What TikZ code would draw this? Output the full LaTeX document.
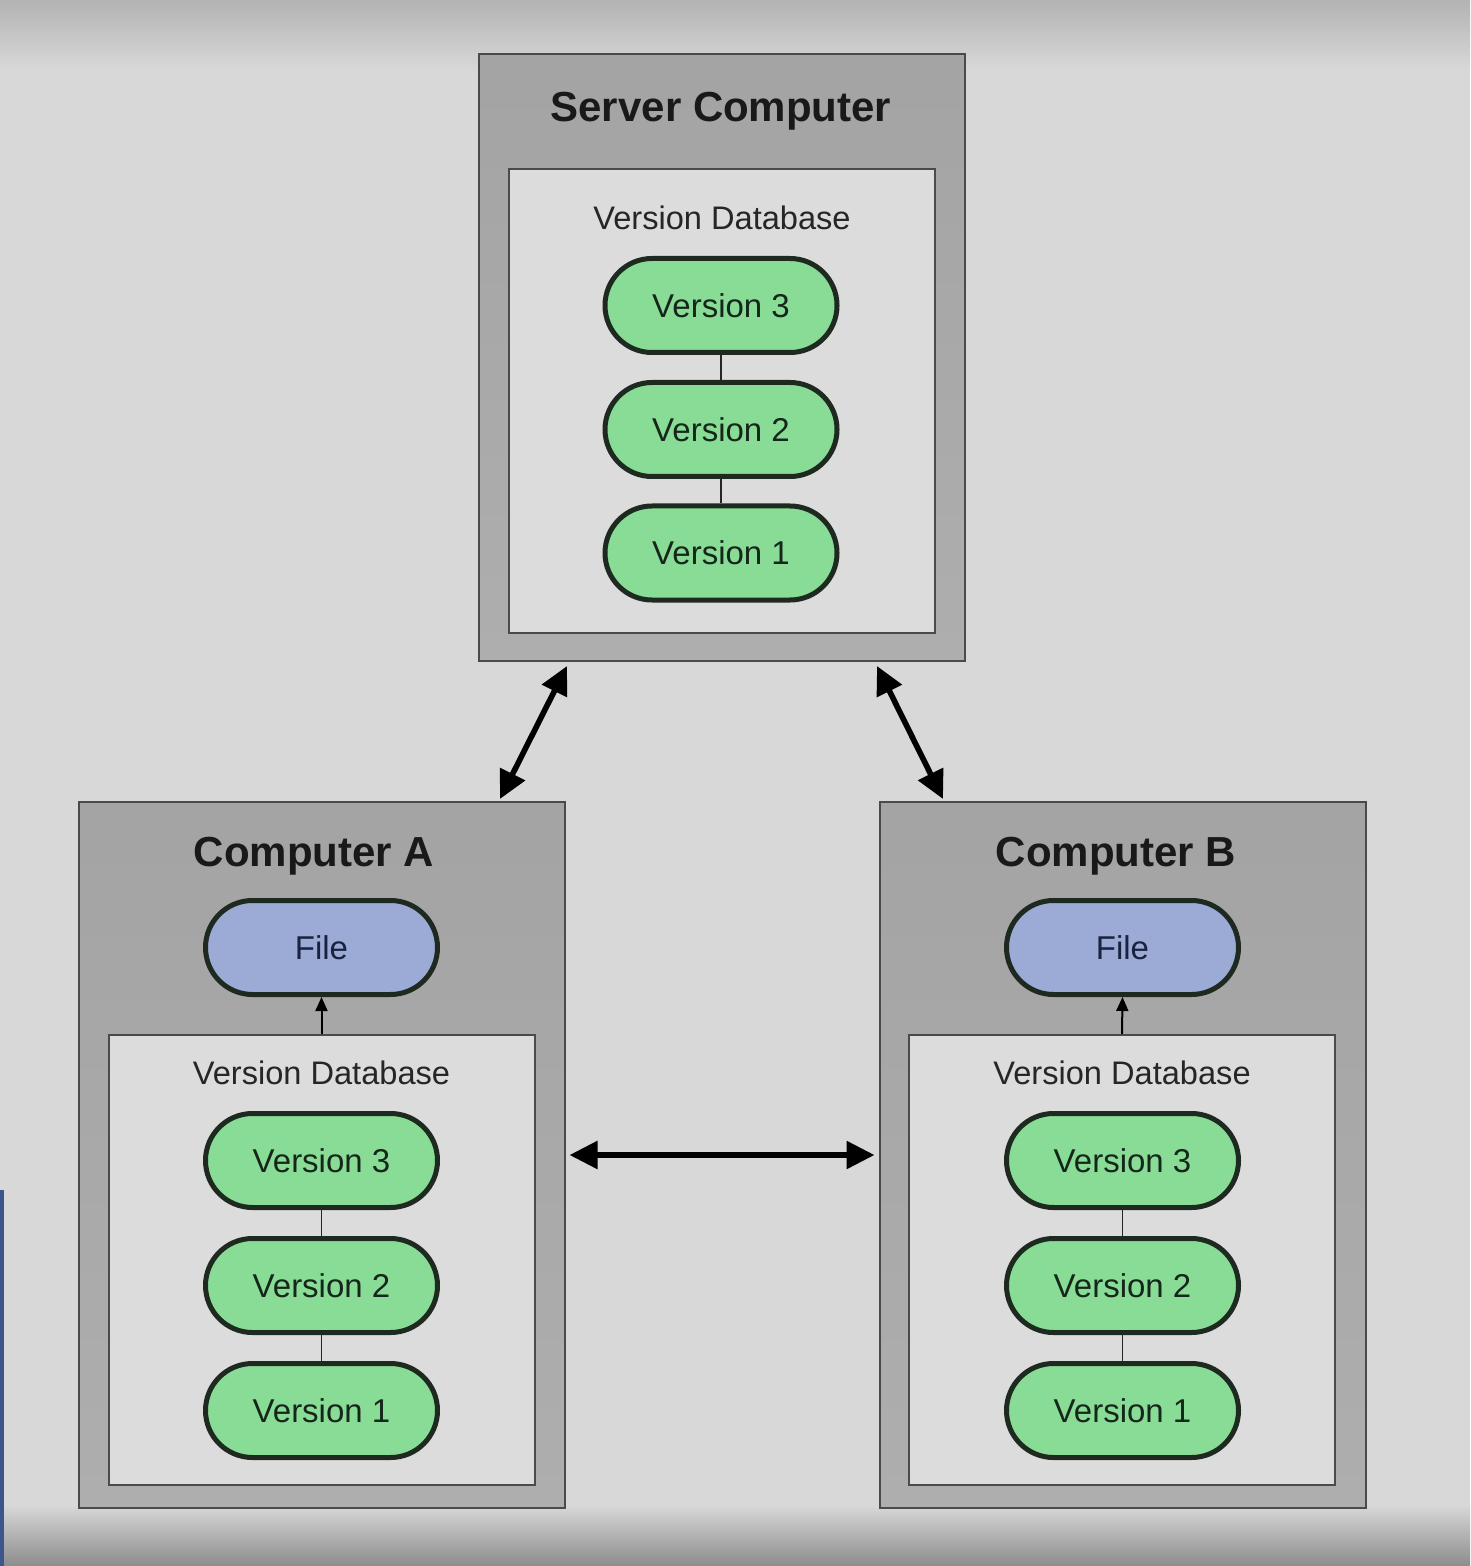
\documentclass[tikz,border=0pt]{standalone}
\usepackage{fontspec}
\setmainfont{Liberation Sans}
\usetikzlibrary{arrows.meta}
\definecolor{bgc}{HTML}{D8D8D8}
\definecolor{outerc}{HTML}{AEAEAE}
\definecolor{innerc}{HTML}{DCDCDC}
\definecolor{edgec}{HTML}{4A4A4A}
\definecolor{greenc}{HTML}{88DC96}
\definecolor{bluec}{HTML}{9CAAD6}
\definecolor{gtext}{HTML}{15261A}
\definecolor{btext}{HTML}{1A2240}
\definecolor{pillline}{HTML}{1E2A20}
\tikzset{
  outerbox/.style={draw=edgec, line width=1pt, top color=#1!94!black, bottom color=#1, minimum width=243pt, minimum height=353pt, inner sep=0pt},
  innerbox/.style={draw=edgec, line width=1pt, fill=innerc, minimum width=213pt, minimum height=225pt, inner sep=0pt},
  pill/.style={draw=pillline, line width=2.5pt, fill=greenc, minimum width=116pt, minimum height=47pt, rounded corners=23.5pt, inner sep=0pt, font=\fontsize{16.5}{18}\selectfont, text=gtext},
  filepill/.style={pill, fill=bluec, text=btext},
  titletext/.style={font=\fontsize{21}{24}\selectfont\bfseries, text=black!90},
  dbtext/.style={font=\fontsize{16.3}{18}\selectfont, text=black!85},
  bigarrow/.style={line width=2.8pt, {Triangle[length=14pt,width=13.5pt]}-{Triangle[length=14pt,width=13.5pt]}},
  smallarrow/.style={line width=1pt, -{Triangle[length=7pt,width=6pt]}},
  link/.style={line width=0.8pt, draw=black!85}
}
\begin{document}
\begin{tikzpicture}[x=0.5pt,y=-0.5pt]
% background
\useasboundingbox (0,0) rectangle (1470,1566);
\fill[bgc] (0,0) rectangle (1470,1566);
\shade[top color=black!30, bottom color=bgc] (0,0) rectangle (1470,70);
\shade[top color=bgc, bottom color=black!45] (0,1505) rectangle (1470,1566);
\fill[fill={rgb,255:red,62;green,84;blue,140}] (0,1190) rectangle (4,1566);

% server
\node[outerbox=outerc, minimum width=243pt, minimum height=303.5pt] (srv) at (722,357.5) {};
\node[innerbox, minimum width=213pt, minimum height=232pt] (srvdb) at (722,401) {};
\node[titletext] (srvt) at (721,111) {Server Computer};
\node[dbtext] (srvdbt) at (722,218) {Version Database};
\node[pill] (s3) at (721,305.5) {Version 3};
\node[pill] (s2) at (721,429.5) {Version 2};
\node[pill] (s1) at (721,553) {Version 1};
\draw[link] (s3) -- (s2);
\draw[link] (s2) -- (s1);

% computer A
\node[outerbox=outerc] (ca) at (321.5,1155) {};
\node[innerbox] (cadb) at (321.5,1260) {};
\node[titletext] (cat) at (314,856) {Computer A};
\node[filepill] (af) at (321.5,947.5) {File};
\node[dbtext] (cadbt) at (321.5,1073) {Version Database};
\node[pill] (a3) at (321.5,1160.5) {Version 3};
\node[pill] (a2) at (321.5,1285.5) {Version 2};
\node[pill] (a1) at (321.5,1410.5) {Version 1};
\draw[link] (a3) -- (a2);
\draw[link] (a2) -- (a1);
\draw[smallarrow] (cadb.north) -- (af.south);

% computer B
\node[outerbox=outerc] (cb) at (1122.5,1155) {};
\node[innerbox] (cbdb) at (1122,1260) {};
\node[titletext] (cbt) at (1116,856) {Computer B};
\node[filepill] (bf) at (1122.5,947.5) {File};
\node[dbtext] (cbdbt) at (1122,1073) {Version Database};
\node[pill] (b3) at (1122.5,1160.5) {Version 3};
\node[pill] (b2) at (1122.5,1285.5) {Version 2};
\node[pill] (b1) at (1122.5,1410.5) {Version 1};
\draw[link] (b3) -- (b2);
\draw[link] (b2) -- (b1);
\draw[smallarrow] (cbdb.north) -- (bf.south);

% connectors
\coordinate (sl) at (567,666);
\coordinate (al) at (500,799);
\coordinate (sr) at (877,666);
\coordinate (br) at (943,799);
\draw[bigarrow] (sl) -- (al);
\draw[bigarrow] (sr) -- (br);
\draw[bigarrow, shorten <=2pt, shorten >=2pt] (ca.east) -- (cb.west);
\end{tikzpicture}
\end{document}
